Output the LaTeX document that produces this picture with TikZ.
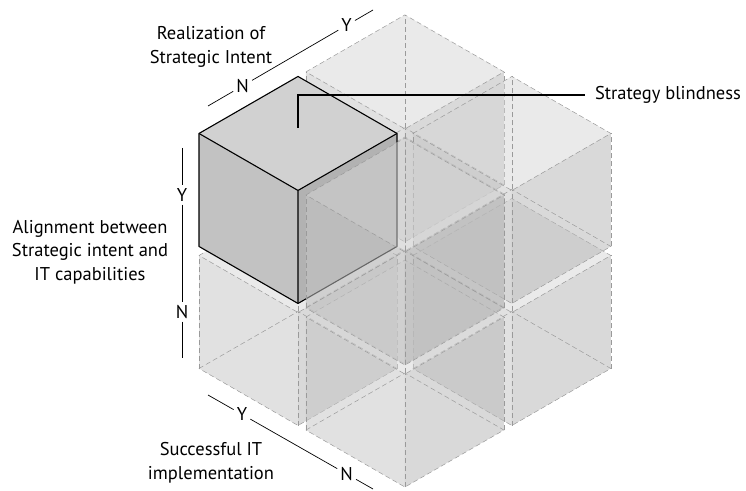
\documentclass[tikz,border=0pt]{standalone}
\usepackage{fontspec}
\setmainfont{PT Sans}
\usepackage{tikz}
\usetikzlibrary{calc}
\definecolor{CBtop}{HTML}{D6D6D6}
\definecolor{CBleft}{HTML}{C6C6C6}
\definecolor{CBright}{HTML}{B6B6B6}
\definecolor{CBedge}{HTML}{9A9A9A}
\definecolor{SBtop}{HTML}{D1D1D1}
\definecolor{SBleft}{HTML}{C2C2C2}
\definecolor{SBright}{HTML}{B2B2B2}

% one see-through cube of the block, indices along u, v, w
\newcommand{\glasscube}[3]{%
  \pgfmathsetmacro{\pa}{#1*1.08}\pgfmathsetmacro{\pb}{\pa+1}%
  \pgfmathsetmacro{\qa}{#2*1.08}\pgfmathsetmacro{\qb}{\qa+1}%
  \pgfmathsetmacro{\ra}{#3*1.08}\pgfmathsetmacro{\rb}{\ra+1}%
  \fill[glassface=CBtop] (\pa,\qa,\rb) -- (\pb,\qa,\rb) -- (\pb,\qb,\rb) -- (\pa,\qb,\rb) -- cycle;
  \fill[glassface=CBleft] (\pa,\qa,\rb) -- (\pa,\qb,\rb) -- (\pa,\qb,\ra) -- (\pa,\qa,\ra) -- cycle;
  \fill[glassface=CBright] (\pa,\qb,\rb) -- (\pb,\qb,\rb) -- (\pb,\qb,\ra) -- (\pa,\qb,\ra) -- cycle;
  \draw[glassedge] (\pa,\qa,\ra) -- (\pb,\qa,\ra) -- (\pb,\qb,\ra) -- (\pa,\qb,\ra) -- cycle;
  \draw[glassedge] (\pa,\qa,\rb) -- (\pb,\qa,\rb) -- (\pb,\qb,\rb) -- (\pa,\qb,\rb) -- cycle;
  \draw[glassedge] (\pa,\qa,\ra) -- (\pa,\qa,\rb) (\pb,\qa,\ra) -- (\pb,\qa,\rb)
                   (\pb,\qb,\ra) -- (\pb,\qb,\rb) (\pa,\qb,\ra) -- (\pa,\qb,\rb);
}

\begin{document}
\begin{tikzpicture}[
    x=1pt, y=1pt,
    font=\fontsize{18.5}{23.5}\selectfont,
    glassface/.style={fill=#1, fill opacity=0.52},
    glassedge/.style={draw=CBedge, line width=0.5pt, dash pattern=on 5pt off 3pt},
    solidface/.style={fill=#1},
    solidedge/.style={draw=black, line width=1.1pt, line join=round},
    axisline/.style={draw=black, line width=0.7pt},
    axletter/.style={inner sep=3pt},
    axistitle/.style={align=center},
    leader/.style={draw=black, line width=1.4pt}
  ]
  \useasboundingbox (0,0) rectangle (746,490);

  % Block of eight cubes, isometric
  \begin{scope}[shift={(199pt,121.5pt)},
      x={(99pt,57pt)}, y={(99pt,-57pt)}, z={(0pt,113pt)}]
    % cubes behind the marked one
    \glasscube{1}{0}{0}
    \glasscube{0}{0}{0}
    \glasscube{1}{1}{0}
    \glasscube{1}{0}{1}

    % marked cube: strategy blindness
    \fill[solidface=SBtop]   (0,0,2.08) -- (1,0,2.08) -- (1,1,2.08) -- (0,1,2.08) -- cycle;
    \fill[solidface=SBleft]  (0,0,2.08) -- (0,1,2.08) -- (0,1,1.08) -- (0,0,1.08) -- cycle;
    \fill[solidface=SBright] (0,1,2.08) -- (1,1,2.08) -- (1,1,1.08) -- (0,1,1.08) -- cycle;
    \draw[solidedge] (0,0,2.08) -- (1,0,2.08) -- (1,1,2.08) -- (1,1,1.08)
                     -- (0,1,1.08) -- (0,0,1.08) -- cycle;
    \draw[solidedge] (0,0,2.08) -- (0,1,2.08) -- (1,1,2.08) (0,1,2.08) -- (0,1,1.08);
    \coordinate (blindpt) at (0.55,0.45,2.08);

    % cubes in front of it
    \glasscube{0}{1}{0}
    \glasscube{1}{1}{1}
    \glasscube{0}{1}{1}
  \end{scope}

  % Axis: realization of strategic intent
  \coordinate (topA) at (208,384);
  \coordinate (topB) at (373,480);
  \node[axletter] (topN) at ($(topA)!0.21!(topB)$) {N};
  \node[axletter] (topY) at ($(topA)!0.84!(topB)$) {Y};
  \draw[axisline] (topA) -- (topN) -- (topY) -- (topB);
  \node[axistitle] (toptitle) at (211,443) {Realization of\\Strategic Intent};

  % Axis: alignment
  \coordinate (midA) at (182,342);
  \coordinate (midB) at (182,132);
  \node[axletter] (midY) at ($(midA)!0.224!(midB)$) {Y};
  \node[axletter] (midN) at ($(midA)!0.78!(midB)$) {N};
  \draw[axisline] (midA) -- (midY) -- (midN) -- (midB);
  \node[axistitle] (midtitle) at (90,238) {Alignment between\\Strategic intent and\\IT capabilities};

  % Axis: successful IT implementation
  \coordinate (lowA) at (208,95);
  \coordinate (lowB) at (373,1);
  \node[axletter] (lowY) at ($(lowA)!0.206!(lowB)$) {Y};
  \node[axletter] (lowN) at ($(lowA)!0.84!(lowB)$) {N};
  \draw[axisline] (lowA) -- (lowY) -- (lowN) -- (lowB);
  \node[axistitle] (lowtitle) at (211,27) {Successful IT\\implementation};

  % Leader to the marked cube
  \node[anchor=west, inner sep=0pt, outer sep=10pt] (blindlbl) at (585,395) {Strategy blindness};
  \draw[leader] (blindpt) |- (blindlbl.west);
\end{tikzpicture}
\end{document}
